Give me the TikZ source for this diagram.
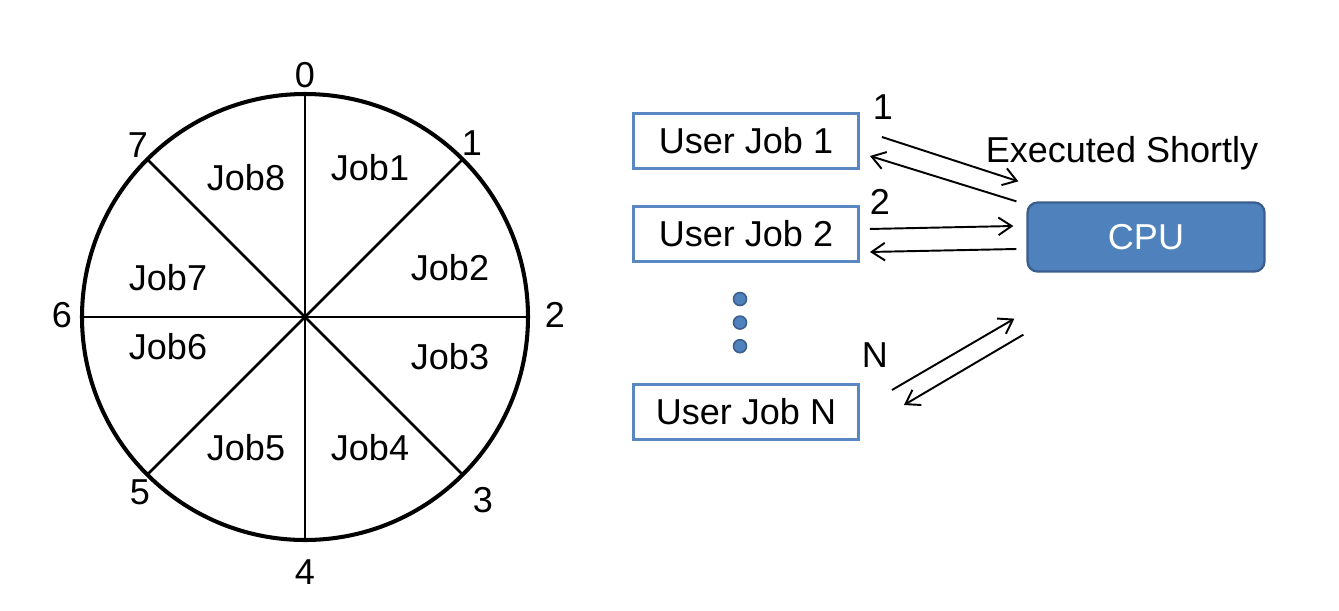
\documentclass[tikz,border=0pt]{standalone}
\usepackage{fontspec}
\setmainfont{Liberation Sans}
\usetikzlibrary{calc,positioning,arrows.meta}

\definecolor{boxblue}{HTML}{5A87C2}
\definecolor{cpublue}{HTML}{4F81BD}
\definecolor{cpuedge}{HTML}{3A5F8E}

\begin{document}
\begin{tikzpicture}[x=0.02cm,y=0.02cm,
	every node/.style={font=\fontsize{20.5}{24}\selectfont},
	wheel/.style={line width=2.3pt},
	spoke/.style={line width=1.6pt},
	jobbox/.style={draw=boxblue,line width=1.7pt,minimum width=4.5cm,minimum height=1.1cm},
	cpubox/.style={draw=cpuedge,fill=cpublue,line width=1.3pt,rounded corners=0.2cm,text=white,minimum width=4.74cm,minimum height=1.38cm},
	dotmark/.style={circle,fill=cpublue,draw=cpuedge,line width=0.9pt,minimum size=0.26cm,inner sep=0pt},
	flow/.style={-{Straight Barb[length=7.5pt,width=10pt]},line width=1.1pt}]
	
	\useasboundingbox (0,0) rectangle (1339,610);
	
	\coordinate (hub) at (305,293);
	
	\draw [wheel] (hub) circle (223);
	
	\coordinate (t0) at ($(hub)+(90:223)$);
	\coordinate (t1) at ($(hub)+(45:223)$);
	\coordinate (t2) at ($(hub)+(0:223)$);
	\coordinate (t3) at ($(hub)+(-45:223)$);
	\coordinate (t4) at ($(hub)+(-90:223)$);
	\coordinate (t5) at ($(hub)+(-135:223)$);
	\coordinate (t6) at ($(hub)+(180:223)$);
	\coordinate (t7) at ($(hub)+(135:223)$);
	
	\draw [spoke] (t0) -- (t4);
	\draw [spoke] (t1) -- (t5);
	\draw [spoke] (t2) -- (t6);
	\draw [spoke] (t3) -- (t7);
	
	%%%%%%%%%%%%%%%%%%%%%%%%%%%%%%%%%%%%%%%%%%%%%%%%%%%%%%
	
	\node (tick0) at ($(hub)+(0,242)$) {0};
	\node (tick1) at ($(hub)+(167,174)$) {1};
	\node (tick2) at ($(hub)+(250,2)$) {2};
	\node (tick3) at ($(hub)+(178,-183)$) {3};
	\node (tick4) at ($(hub)+(0,-255)$) {4};
	\node (tick5) at ($(hub)+(-165,-175)$) {5};
	\node (tick6) at ($(hub)+(-243,2)$) {6};
	\node (tick7) at ($(hub)+(-167,172)$) {7};
	
	\node (slice1) at ($(hub)+(65,149)$) {Job1};
	\node (slice2) at ($(hub)+(145,49)$) {Job2};
	\node (slice3) at ($(hub)+(145,-40)$) {Job3};
	\node (slice4) at ($(hub)+(65,-131)$) {Job4};
	\node (slice5) at ($(hub)+(-59,-131)$) {Job5};
	\node (slice6) at ($(hub)+(-137,-30)$) {Job6};
	\node (slice7) at ($(hub)+(-137,39)$) {Job7};
	\node (slice8) at ($(hub)+(-59,139)$) {Job8};
	
	%%%%%%%%%%%%%%%%%%%%%%%%%%%%%%%%%%%%%%%%%%%%%%%%%%%%%%
	
	\node [jobbox] (job1) at (746,469) {User Job 1};
	\node [jobbox,below=0.7cm of job1] (job2) {User Job 2};
	\node [jobbox] (jobN) at (746,198) {User Job N};
	
	\node [dotmark] (dot1) at (740,311) {};
	\node [dotmark,below=0.18cm of dot1] (dot2) {};
	\node [dotmark,below=0.18cm of dot2] (dot3) {};
	
	\node [cpubox] (cpu) at (1146,373) {CPU};
	\node (executed) at (1122,457) {Executed Shortly};
	
	%%%%%%%%%%%%%%%%%%%%%%%%%%%%%%%%%%%%%%%%%%%%%%%%%%%%%%
	
	\draw [flow] ($(job1.east)+(22,4)$) -- ($(cpu.north west)+(-8,20)$);
	\draw [flow] ($(cpu.north west)+(-10,0)$) -- ($(job1.east)+(10,-15)$);
	\node (num1) at ($(job1.east)+(23,34)$) {1};
	%
	\draw [flow] ($(job2.east)+(10,5)$) -- ($(cpu.west)+(-13,11)$);
	\draw [flow] ($(cpu.west)+(-10,-12)$) -- ($(job2.east)+(10,-18)$);
	\node (num2) at ($(job2.east)+(20,32)$) {2};
	%
	\draw [flow] ($(jobN.east)+(32,22)$) -- ($(cpu.south west)+(-12,-46)$);
	\draw [flow] ($(cpu.south west)+(-3,-62)$) -- ($(jobN.east)+(44,7)$);
	\node (numN) at ($(jobN.east)+(15,57)$) {N};
	
\end{tikzpicture}
\end{document}
